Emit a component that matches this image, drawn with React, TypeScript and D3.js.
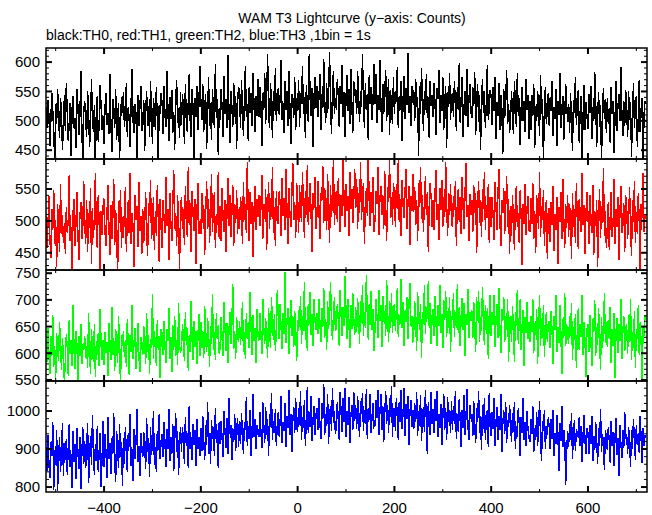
import React from 'react';
import * as d3 from 'd3';

// ---- data (1 value every DT seconds, starting at T0) ----
const T0 = -520;
const DT = 2;
const xDomain: [number, number] = [-520, 722];
const xTicksMajor = [-400, -200, 0, 200, 400, 600];
const xTicksMinor = [-500, -300, -100, 100, 300, 500, 700];
const titleText = 'WAM T3 Lightcurve (y\u2212axis: Counts)';
const subtitleText = 'black:TH0, red:TH1, green:TH2, blue:TH3 ,1bin = 1s';

const th0 = [
  523, 488, 536, 511, 457, 501, 548, 518, 480, 429, 529, 495, 555, 505, 470, 539, 515, 450, 491, 544,
  483, 564, 512, 465, 497, 531, 440, 521, 542, 487, 505, 454, 554, 525, 476, 508, 585, 494, 421, 517,
  534, 499, 473, 551, 515, 455, 490, 572, 508, 481, 527, 418, 519, 543, 464, 498, 561, 522, 484, 509,
  460, 524, 547, 493, 513, 478, 579, 500, 447, 537, 519, 488, 554, 468, 506, 531, 430, 495, 541, 514,
  549, 490, 514, 564, 473, 523, 502, 455, 537, 589, 498, 479, 529, 511, 437, 544, 491, 522, 560, 483,
  499, 536, 449, 516, 551, 492, 526, 473, 568, 509, 461, 538, 519, 485, 558, 503, 424, 527, 512, 547,
  529, 477, 559, 508, 490, 584, 519, 465, 540, 503, 553, 480, 515, 451, 533, 570, 497, 522, 470, 549,
  493, 545, 523, 460, 562, 510, 481, 533, 579, 499, 472, 554, 520, 435, 538, 507, 559, 485, 528, 594,
  536, 501, 562, 481, 524, 545, 452, 513, 575, 492, 531, 468, 554, 516, 487, 597, 505, 537, 442, 522,
  502, 554, 522, 473, 576, 511, 537, 488, 612, 518, 463, 550, 527, 490, 565, 506, 543, 452, 533, 558,
  545, 488, 569, 519, 475, 537, 594, 506, 529, 466, 558, 513, 547, 492, 582, 524, 481, 543, 508, 572,
  506, 558, 533, 457, 548, 518, 582, 495, 541, 614, 511, 487, 564, 529, 470, 551, 516, 590, 499, 536,
  555, 510, 543, 604, 501, 531, 480, 568, 519, 551, 492, 585, 526, 461, 545, 536, 505, 575, 484, 538,
  516, 569, 490, 548, 529, 593, 511, 541, 470, 561, 525, 498, 614, 536, 509, 555, 456, 543, 575, 522,
  559, 506, 539, 580, 485, 546, 522, 605, 531, 496, 564, 514, 543, 618, 527, 478, 552, 585, 511, 538,
  519, 571, 542, 490, 560, 529, 595, 507, 549, 472, 539, 578, 516, 554, 495, 589, 532, 480, 567, 543,
  554, 511, 585, 535, 498, 550, 523, 614, 540, 487, 565, 519, 546, 467, 578, 528, 558, 502, 539, 596,
  529, 579, 497, 544, 518, 603, 536, 481, 563, 512, 549, 586, 500, 537, 571, 476, 553, 523, 494, 574,
  511, 550, 532, 591, 487, 542, 518, 567, 466, 538, 576, 503, 555, 527, 615, 514, 543, 492, 560, 531,
  553, 499, 572, 523, 541, 440, 560, 512, 590, 530, 483, 550, 518, 579, 505, 540, 471, 567, 526, 544,
  507, 565, 528, 476, 555, 538, 586, 497, 544, 517, 574, 485, 534, 559, 454, 549, 523, 581, 502, 541,
  547, 507, 567, 532, 483, 557, 519, 598, 497, 540, 574, 472, 526, 551, 509, 588, 490, 536, 563, 515,
  505, 557, 525, 583, 476, 536, 562, 498, 544, 450, 529, 572, 513, 550, 487, 533, 595, 502, 520, 553,
  542, 493, 557, 516, 575, 469, 532, 509, 564, 484, 544, 521, 444, 554, 505, 536, 586, 495, 529, 479,
  502, 550, 513, 477, 567, 529, 490, 582, 509, 539, 459, 523, 558, 499, 533, 481, 572, 518, 544, 469,
  533, 485, 544, 508, 562, 453, 526, 499, 551, 520, 475, 578, 512, 537, 429, 529, 558, 494, 519, 548,
  491, 540, 516, 568, 475, 524, 503, 555, 457, 533, 510, 582, 488, 520, 542, 467, 506, 563, 528, 498,
  529, 480, 547, 503, 448, 535, 514, 574, 493, 524, 553, 463, 517, 542, 428, 510, 561, 484, 532, 507,
  486, 545, 513, 560, 469, 523, 500, 583, 534, 455, 509, 549, 490, 527, 430, 518, 556, 503, 537, 479,
  538, 495, 522, 463, 558, 512, 534, 445, 505, 568, 482, 526, 545, 499, 592, 516, 474, 533, 492, 552,
  518, 472, 551, 501, 532, 438, 514, 564, 488, 525, 543, 456, 507, 570, 481, 521, 539, 432, 512, 533,
];

const th1 = [
  508, 458, 493, 539, 474, 442, 518, 486, 549, 463, 501, 427, 526, 490, 452, 558, 479, 509, 466, 497,
  448, 522, 481, 501, 572, 469, 491, 416, 514, 535, 460, 498, 546, 477, 439, 507, 529, 472, 488, 563,
  498, 464, 533, 452, 512, 489, 551, 432, 520, 473, 503, 575, 482, 457, 541, 494, 419, 515, 478, 524,
  535, 481, 461, 510, 556, 492, 446, 525, 471, 502, 565, 462, 517, 485, 410, 531, 497, 549, 458, 506,
  473, 516, 553, 452, 499, 532, 481, 575, 464, 512, 490, 427, 541, 502, 523, 459, 561, 484, 508, 448,
  518, 466, 497, 545, 483, 445, 528, 507, 564, 471, 492, 538, 454, 515, 476, 556, 503, 436, 534, 487,
  457, 533, 503, 481, 568, 492, 519, 439, 544, 499, 468, 524, 580, 487, 512, 461, 541, 495, 422, 520,
  538, 487, 519, 462, 554, 504, 475, 584, 494, 528, 451, 547, 510, 484, 535, 433, 515, 559, 479, 500,
  479, 543, 496, 525, 447, 513, 562, 487, 535, 466, 504, 574, 483, 521, 545, 457, 510, 493, 577, 472,
  523, 469, 552, 502, 483, 532, 451, 514, 567, 492, 541, 475, 509, 556, 460, 527, 496, 548, 479, 518,
  488, 538, 514, 463, 561, 502, 526, 481, 592, 512, 468, 545, 495, 530, 443, 519, 554, 486, 535, 506,
  540, 492, 519, 572, 471, 526, 503, 550, 454, 513, 561, 488, 536, 506, 585, 481, 522, 461, 547, 498,
  495, 547, 525, 476, 567, 508, 536, 485, 581, 518, 464, 551, 513, 491, 540, 590, 502, 529, 473, 560,
  533, 481, 556, 518, 498, 577, 525, 473, 547, 509, 588, 493, 530, 560, 505, 452, 543, 521, 568, 488,
  509, 562, 521, 472, 544, 532, 586, 497, 551, 517, 486, 573, 524, 465, 556, 506, 537, 600, 493, 531,
  547, 498, 567, 522, 482, 540, 507, 602, 528, 490, 557, 515, 539, 476, 577, 519, 550, 496, 532, 581,
  520, 565, 488, 543, 512, 592, 502, 536, 560, 463, 526, 551, 508, 605, 529, 492, 546, 513, 568, 483,
  502, 546, 526, 585, 478, 533, 555, 509, 540, 488, 578, 520, 469, 553, 530, 597, 505, 537, 494, 560,
  543, 490, 558, 519, 595, 499, 534, 476, 564, 523, 505, 547, 581, 487, 527, 554, 462, 539, 516, 574,
  514, 553, 494, 533, 468, 560, 522, 584, 503, 540, 483, 531, 570, 510, 546, 452, 525, 559, 535, 491,
  533, 485, 545, 579, 501, 527, 470, 552, 517, 564, 491, 537, 506, 592, 523, 477, 544, 510, 557, 498,
  490, 539, 517, 562, 461, 529, 550, 499, 538, 479, 569, 520, 487, 546, 591, 506, 525, 468, 542, 510,
  532, 482, 556, 512, 543, 449, 522, 563, 496, 533, 475, 550, 518, 577, 486, 525, 505, 557, 465, 538,
  490, 537, 508, 470, 561, 521, 486, 543, 582, 501, 460, 532, 512, 551, 480, 522, 570, 491, 535, 448,
  523, 476, 541, 501, 455, 530, 554, 491, 513, 466, 548, 504, 431, 527, 495, 558, 478, 519, 539, 485,
  484, 536, 495, 559, 471, 516, 449, 541, 508, 488, 576, 475, 523, 501, 548, 461, 512, 533, 440, 519,
  519, 467, 530, 493, 554, 453, 510, 485, 538, 432, 521, 498, 545, 472, 565, 505, 458, 527, 489, 540,
  475, 526, 504, 441, 543, 491, 518, 465, 559, 500, 456, 535, 512, 482, 575, 494, 525, 448, 514, 545,
  510, 463, 540, 499, 481, 557, 447, 516, 492, 533, 428, 503, 550, 473, 523, 496, 583, 477, 515, 457,
  486, 529, 455, 507, 546, 474, 498, 565, 463, 518, 491, 537, 439, 511, 554, 481, 502, 528, 451, 540,
  523, 472, 504, 553, 488, 445, 533, 498, 563, 466, 514, 479, 543, 497, 420, 526, 505, 575, 483, 509,
];

const th2 = [
  624, 583, 648, 600, 562, 632, 595, 672, 575, 613, 551, 638, 606, 586, 659, 616, 569, 628, 596, 545,
  589, 636, 610, 558, 663, 598, 625, 577, 690, 603, 570, 642, 615, 547, 633, 594, 654, 580, 618, 607,
  633, 592, 613, 573, 675, 602, 562, 646, 609, 584, 655, 555, 622, 597, 637, 576, 682, 613, 587, 625,
  578, 639, 601, 621, 557, 656, 610, 587, 687, 597, 628, 566, 646, 614, 582, 669, 603, 543, 634, 613,
  642, 593, 625, 575, 665, 613, 560, 635, 602, 690, 589, 621, 648, 571, 610, 656, 596, 565, 631, 614,
  596, 651, 619, 579, 676, 603, 635, 561, 626, 610, 711, 589, 642, 616, 577, 662, 607, 633, 553, 645,
  638, 597, 660, 613, 581, 645, 623, 684, 590, 630, 565, 653, 607, 670, 595, 624, 578, 695, 614, 603,
  607, 654, 629, 586, 678, 616, 647, 567, 635, 602, 698, 625, 587, 661, 612, 642, 580, 630, 674, 595,
  658, 609, 642, 592, 689, 624, 602, 666, 635, 575, 651, 617, 711, 606, 640, 588, 675, 627, 652, 598,
  612, 667, 628, 594, 696, 645, 605, 657, 582, 639, 678, 618, 652, 729, 608, 642, 590, 668, 631, 621,
  661, 615, 652, 696, 602, 640, 589, 675, 627, 658, 609, 715, 641, 596, 671, 623, 648, 582, 683, 634,
  624, 676, 639, 599, 702, 649, 617, 666, 632, 592, 684, 643, 610, 706, 655, 625, 673, 604, 641, 719,
  667, 626, 692, 644, 608, 676, 637, 753, 619, 660, 685, 598, 651, 700, 632, 669, 612, 679, 648, 585,
  632, 681, 649, 707, 617, 669, 642, 733, 625, 662, 604, 693, 655, 714, 635, 673, 614, 702, 659, 644,
  676, 636, 702, 659, 621, 685, 649, 723, 629, 664, 606, 697, 645, 680, 734, 655, 625, 673, 705, 643,
  644, 693, 662, 614, 718, 669, 632, 686, 652, 745, 676, 627, 702, 659, 610, 691, 646, 712, 665, 634,
  686, 640, 704, 665, 618, 697, 657, 728, 633, 678, 648, 746, 671, 625, 693, 653, 717, 643, 682, 604,
  649, 701, 669, 628, 719, 661, 690, 612, 708, 658, 679, 633, 738, 668, 621, 698, 648, 712, 638, 675,
  693, 642, 686, 722, 631, 672, 654, 740, 647, 696, 614, 680, 659, 705, 627, 689, 732, 651, 669, 620,
  639, 697, 662, 605, 714, 674, 643, 693, 591, 678, 654, 727, 636, 686, 665, 735, 648, 695, 618, 671,
  683, 632, 708, 659, 614, 690, 651, 728, 638, 673, 609, 700, 662, 716, 631, 680, 648, 705, 602, 669,
  663, 713, 631, 678, 648, 730, 638, 687, 613, 670, 704, 643, 694, 594, 673, 653, 720, 628, 677, 660,
  680, 629, 696, 650, 603, 705, 661, 717, 622, 668, 642, 725, 653, 615, 691, 636, 684, 590, 673, 710,
  633, 677, 653, 710, 611, 665, 693, 628, 722, 647, 601, 682, 660, 706, 621, 670, 643, 702, 584, 663,
  670, 622, 688, 645, 584, 677, 652, 719, 618, 661, 701, 607, 654, 681, 576, 667, 638, 696, 626, 659,
  621, 669, 639, 701, 600, 657, 634, 683, 580, 650, 709, 613, 666, 629, 690, 593, 646, 678, 622, 656,
  660, 610, 679, 637, 579, 669, 644, 709, 603, 649, 620, 690, 639, 561, 665, 628, 712, 613, 655, 634,
  617, 669, 632, 694, 587, 649, 624, 674, 572, 642, 685, 606, 655, 631, 709, 596, 659, 620, 555, 646,
  654, 603, 671, 628, 577, 664, 639, 699, 594, 649, 615, 684, 631, 568, 668, 610, 643, 712, 619, 659,
  611, 663, 627, 687, 582, 646, 614, 676, 553, 641, 666, 600, 655, 623, 702, 590, 637, 670, 604, 649,
  652, 599, 671, 622, 701, 587, 640, 609, 680, 573, 645, 627, 690, 596, 658, 617, 549, 650, 633, 672,
];

const th3 = [
  904, 841, 937, 863, 823, 919, 881, 972, 792, 898, 858, 950, 790, 873, 932, 839, 893, 968, 828, 916,
  870, 927, 832, 906, 965, 854, 887, 797, 947, 866, 912, 821, 955, 892, 847, 931, 795, 881, 957, 860,
  922, 849, 904, 968, 810, 874, 934, 859, 990, 891, 832, 913, 869, 960, 839, 898, 943, 800, 883, 975,
  852, 940, 892, 825, 983, 874, 917, 835, 930, 887, 995, 861, 814, 948, 899, 849, 966, 878, 919, 803,
  928, 862, 959, 887, 840, 941, 906, 991, 855, 899, 817, 952, 875, 920, 1005, 866, 908, 830, 943, 896,
  878, 944, 909, 847, 982, 891, 928, 826, 958, 885, 917, 1000, 858, 905, 839, 948, 898, 991, 874, 924,
  940, 879, 970, 912, 853, 952, 899, 1005, 868, 931, 888, 965, 843, 921, 996, 892, 947, 832, 914, 959,
  893, 959, 920, 862, 983, 908, 943, 850, 1012, 901, 932, 872, 966, 911, 949, 855, 978, 899, 931, 882,
  954, 895, 986, 920, 871, 962, 912, 1025, 888, 943, 861, 975, 927, 959, 881, 1007, 916, 950, 849, 971,
  913, 974, 926, 880, 1000, 943, 904, 981, 888, 1035, 939, 964, 871, 954, 919, 993, 895, 947, 982, 906,
  975, 914, 996, 936, 888, 970, 949, 1037, 908, 960, 926, 1003, 881, 954, 1045, 932, 979, 900, 964, 939,
  932, 998, 950, 904, 1023, 963, 917, 1010, 938, 978, 883, 991, 957, 1048, 925, 973, 943, 1005, 908, 966,
  997, 933, 980, 1040, 917, 970, 948, 1022, 905, 986, 956, 1055, 938, 991, 892, 973, 1011, 942, 1033, 954,
  946, 1009, 964, 1053, 924, 985, 956, 1029, 907, 976, 1062, 943, 997, 959, 1040, 920, 981, 1013, 936, 991,
  1008, 949, 1033, 970, 926, 1021, 980, 1070, 937, 993, 962, 1045, 913, 987, 1014, 947, 1061, 968, 1000, 941,
  957, 1024, 978, 925, 1051, 991, 946, 1034, 970, 1060, 933, 1001, 963, 1038, 917, 988, 1016, 950, 1050, 975,
  1016, 953, 1040, 980, 931, 1027, 992, 1048, 948, 1002, 966, 1058, 927, 1008, 977, 1046, 941, 990, 1022, 959,
  963, 1028, 982, 1055, 936, 996, 1044, 951, 1012, 919, 991, 1052, 967, 1017, 943, 1035, 984, 1065, 932, 1000,
  1009, 947, 1035, 988, 925, 1024, 972, 1056, 954, 999, 1060, 935, 1019, 979, 1040, 911, 993, 1030, 958, 1003,
  952, 1021, 970, 1050, 934, 1001, 961, 1042, 921, 986, 1011, 945, 1055, 975, 886, 1024, 982, 938, 1049, 965,
  1005, 942, 1032, 974, 1052, 931, 993, 955, 1019, 910, 981, 1044, 951, 1009, 924, 1037, 970, 1002, 941, 1026,
  951, 1013, 967, 1053, 927, 992, 944, 1032, 974, 906, 1003, 955, 1041, 937, 986, 1058, 961, 925, 1017, 979,
  993, 934, 1025, 960, 915, 1009, 972, 1052, 941, 988, 897, 1017, 954, 1034, 925, 979, 1003, 906, 1048, 958,
  935, 998, 953, 1034, 908, 971, 1010, 924, 987, 949, 1045, 891, 964, 1002, 940, 1023, 917, 975, 957, 1016,
  976, 919, 996, 945, 1025, 901, 961, 931, 1008, 966, 881, 985, 941, 1035, 923, 972, 908, 1001, 954, 930,
  918, 978, 939, 1013, 892, 955, 924, 998, 907, 966, 1026, 929, 868, 973, 948, 1002, 900, 960, 936, 983,
  958, 900, 980, 926, 1003, 882, 942, 913, 990, 937, 843, 968, 921, 1012, 905, 951, 930, 806, 892, 947,
  906, 966, 923, 996, 875, 942, 975, 896, 949, 945, 930, 984, 909, 961, 865, 940, 990, 919, 888, 954,
  944, 887, 963, 914, 988, 869, 933, 898, 971, 923, 862, 954, 908, 1005, 893, 940, 916, 844, 950, 929,
  897, 957, 922, 864, 974, 909, 944, 855, 936, 982, 885, 929, 830, 962, 916, 877, 951, 904, 997, 926,
  940, 886, 959, 917, 854, 949, 901, 980, 925, 872, 964, 911, 943, 890, 988, 922, 863, 956, 907, 936,
];

const panels = [
  { values: th0, color: '#000000', domain: [435, 624], major: [450, 500, 550, 600], minorStep: 10 },
  { values: th1, color: '#ff0000', domain: [423, 597], major: [450, 500, 550], minorStep: 10 },
  { values: th2, color: '#00ff00', domain: [548, 756], major: [550, 600, 650, 700, 750], minorStep: 10 },
  { values: th3, color: '#0000ff', domain: [787, 1079], major: [800, 900, 1000], minorStep: 20 },
];

// ---- layout ----
const W = 652;
const H = 515;
const left = 46;
const right = 647;
const top = 48;
const bottom = 492;
const FONT = '"Liberation Sans", Arial, Helvetica, sans-serif';

export default function App() {
  const x = d3.scaleLinear().domain(xDomain).range([left, right]);
  const ph = (bottom - top) / panels.length;
  const fmt = (v: number) => (v < 0 ? '\u2212' + Math.abs(v) : String(v));

  return (
    <svg width={W} height={H} style={{ position: 'absolute', left: 0, top: 0, background: '#fff' }}>
      <rect x={0} y={0} width={W} height={H} fill="#fff" />
      <text x={352} y={23} textAnchor="middle" fontFamily={FONT} fontSize={14} fill="#000">{titleText}</text>
      <text x={46} y={40} fontFamily={FONT} fontSize={14} fill="#000">{subtitleText}</text>
      <defs>
        {panels.map((p, k) => (
          <clipPath id={`clip${k}`} key={k}>
            <rect x={left} y={top + k * ph} width={right - left} height={ph} />
          </clipPath>
        ))}
      </defs>
      {panels.map((p, k) => {
        const y0 = top + k * ph;
        const y1 = y0 + ph;
        const y = d3.scaleLinear().domain(p.domain).range([y1, y0]);
        const line = d3
          .line<number>()
          .x((_, i) => x(T0 + i * DT))
          .y((v) => y(v));
        const minors = d3
          .range(Math.ceil(p.domain[0] / p.minorStep) * p.minorStep, p.domain[1], p.minorStep)
          .filter((v) => !p.major.includes(v));
        return (
          <g key={k}>
            <path
              d={line(p.values) || ''}
              fill="none"
              stroke={p.color}
              strokeWidth={1.4}
              shapeRendering="crispEdges"
              clipPath={`url(#clip${k})`}
            />
            <rect x={left} y={y0} width={right - left} height={ph} fill="none" stroke="#000" strokeWidth={1.5} />
            {p.major.map((v) => (
              <g key={'M' + v}>
                <line x1={left} x2={left + 6} y1={y(v)} y2={y(v)} stroke="#000" strokeWidth={2} />
                <line x1={right} x2={right - 6} y1={y(v)} y2={y(v)} stroke="#000" strokeWidth={2} />
                <text x={40} y={y(v)} dy="0.35em" textAnchor="end" fontFamily={FONT} fontSize={15} fill="#000">{v}</text>
              </g>
            ))}
            {minors.map((v) => (
              <g key={'m' + v}>
                <line x1={left} x2={left + 3} y1={y(v)} y2={y(v)} stroke="#000" strokeWidth={1} />
                <line x1={right} x2={right - 3} y1={y(v)} y2={y(v)} stroke="#000" strokeWidth={1} />
              </g>
            ))}
            {xTicksMajor.map((t) => (
              <g key={'X' + t}>
                <line x1={x(t)} x2={x(t)} y1={y1} y2={y1 - 6} stroke="#000" strokeWidth={2} />
                <line x1={x(t)} x2={x(t)} y1={y0} y2={y0 + 6} stroke="#000" strokeWidth={2} />
              </g>
            ))}
            {xTicksMinor.map((t) => (
              <g key={'x' + t}>
                <line x1={x(t)} x2={x(t)} y1={y1} y2={y1 - 3} stroke="#000" strokeWidth={1} />
                <line x1={x(t)} x2={x(t)} y1={y0} y2={y0 + 3} stroke="#000" strokeWidth={1} />
              </g>
            ))}
          </g>
        );
      })}
      {xTicksMajor.map((t) => (
        <text key={'xl' + t} x={x(t)} y={513} textAnchor="middle" fontFamily={FONT} fontSize={15} fill="#000">{fmt(t)}</text>
      ))}
    </svg>
  );
}
